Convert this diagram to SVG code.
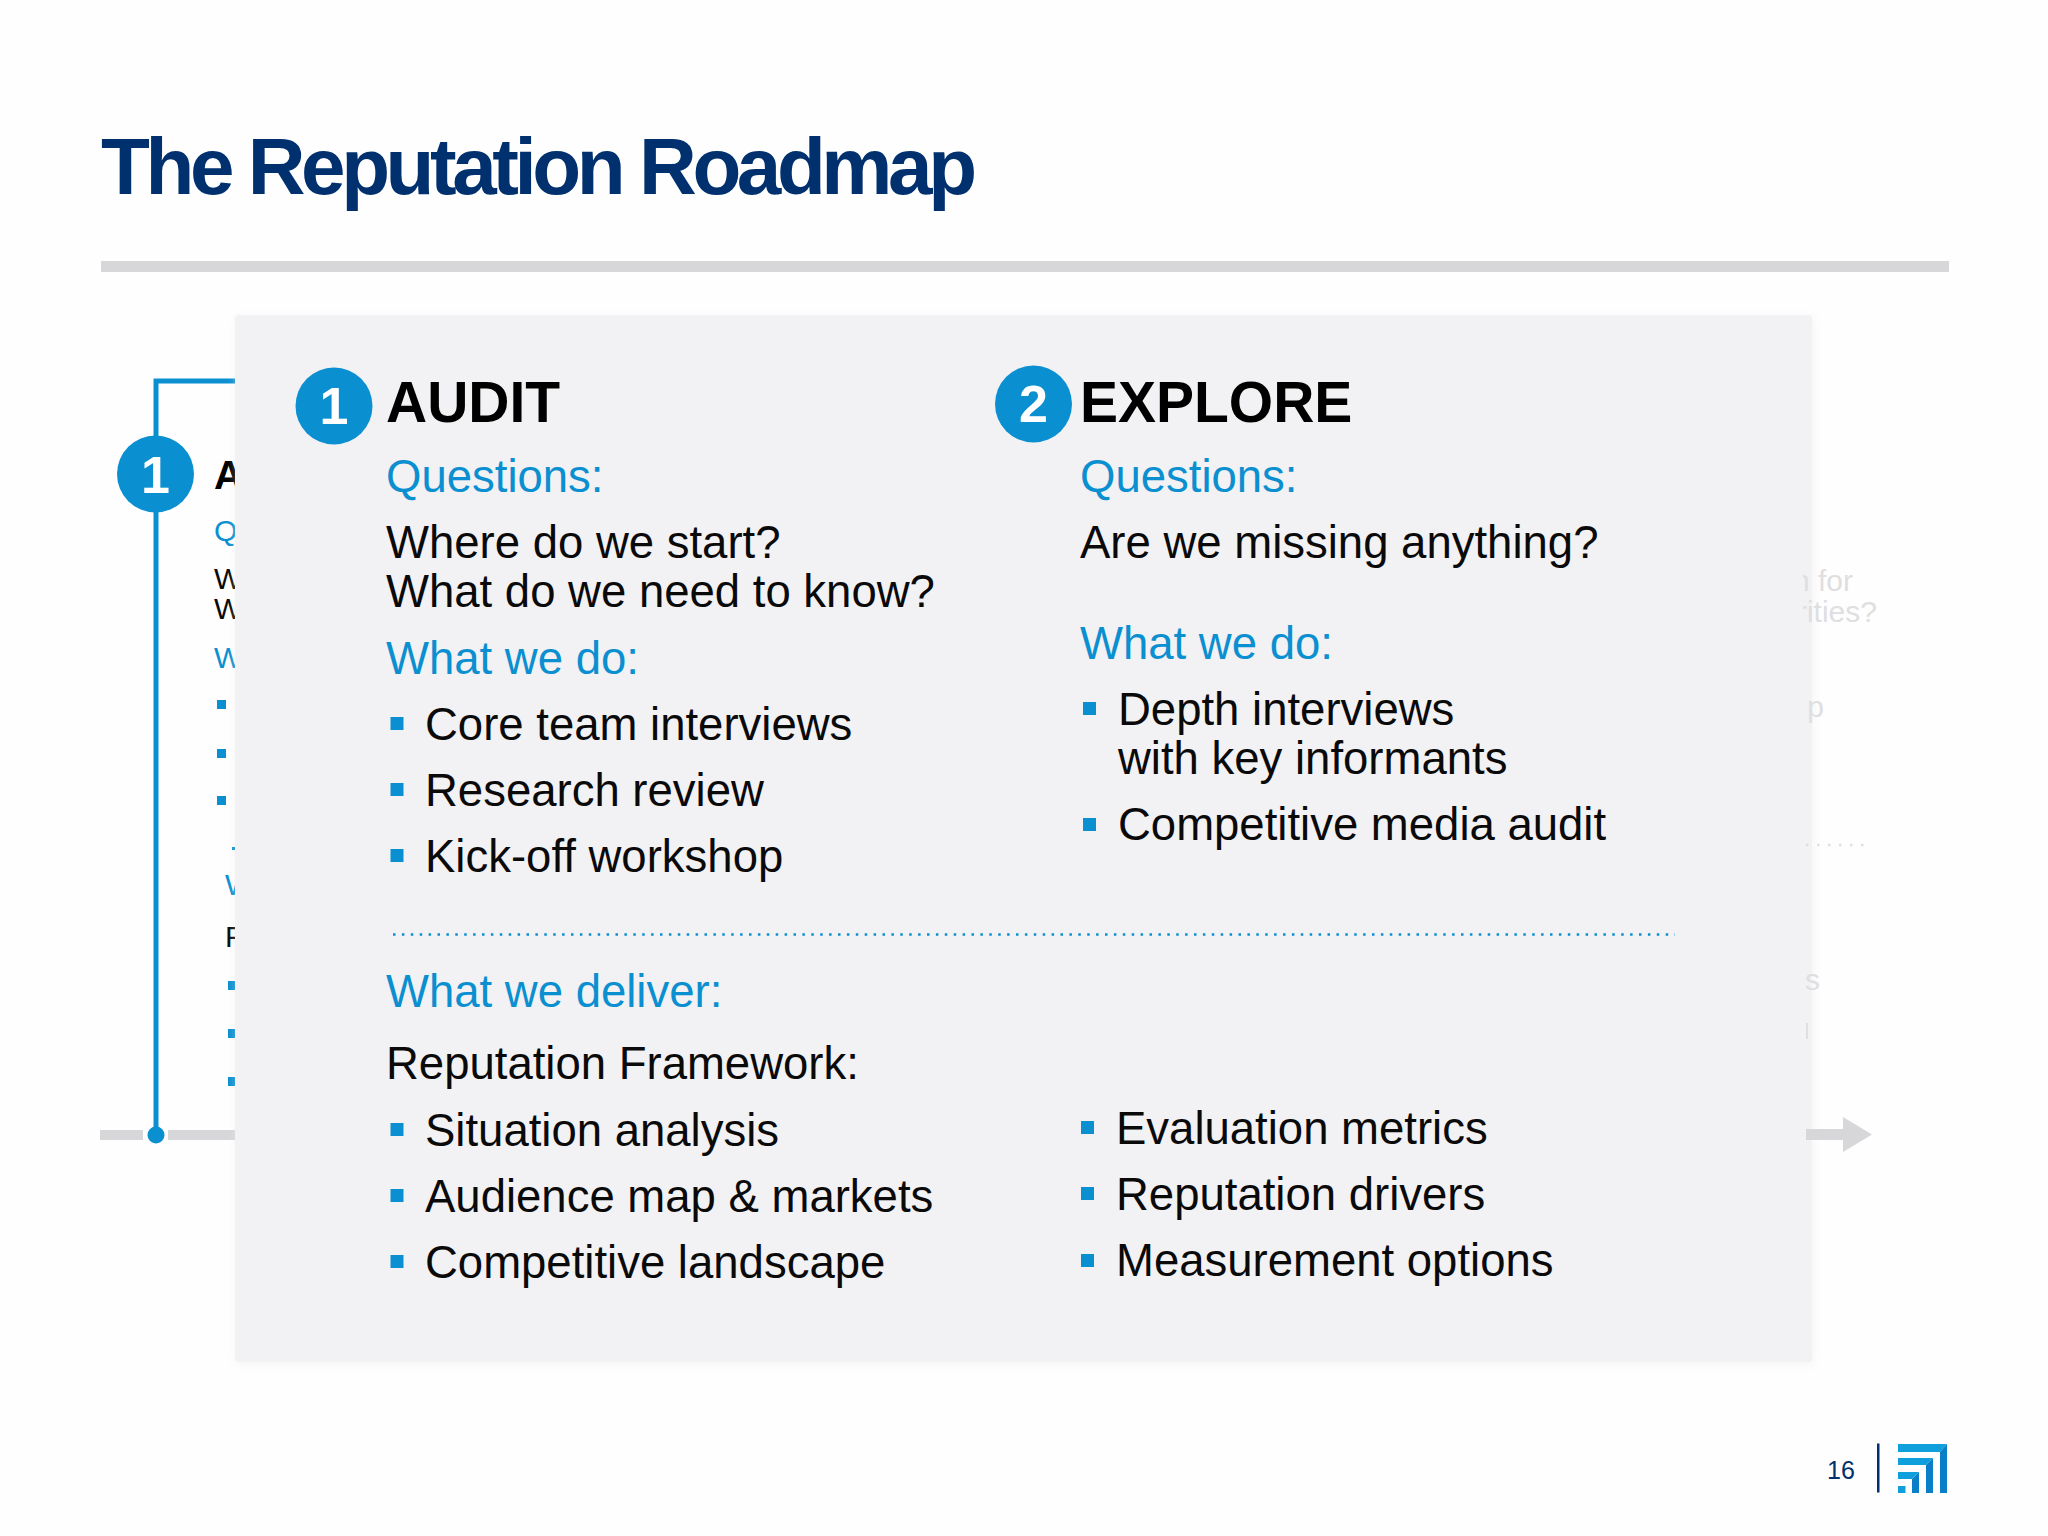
<svg xmlns="http://www.w3.org/2000/svg" width="2048" height="1536" viewBox="0 0 2048 1536">
<style>
text{font-family:"Liberation Sans",Arial,sans-serif}
.t{font-size:45.5px;fill:#0a0a0a}
.b{font-size:45.5px;fill:#0a8fd0}
.h{font-size:57px;font-weight:700;fill:#000}
.n{font-size:52px;font-weight:700;fill:#fff;text-anchor:middle}
.st{font-size:30px;fill:#0a0a0a}
.sb{font-size:30px;fill:#0a8fd0}
.f{font-size:30px;fill:#dfdee1}
.c{fill:#0a8fd0}
.sq{fill:#0a8fd0}
.tl{fill:#d7d6d9}
.lh{fill:#0f9fdd}
.lv{fill:#0a7fc8}
</style>
<defs>
<filter id="soft" x="-5%" y="-5%" width="110%" height="110%"><feGaussianBlur stdDeviation="5"/></filter>
<clipPath id="rightEdge"><rect x="1803" y="300" width="245" height="1000"/></clipPath>
</defs>
<rect width="2048" height="1536" fill="#fefefe"/>
<g id="title">
<text x="101" y="194" font-size="80" font-weight="700" fill="#00306e" textLength="876" lengthAdjust="spacing">The Reputation Roadmap</text>
<rect class="tl" x="101" y="261" width="1848" height="11"/>
</g>
<g id="connectors">
<path d="M156 1128V381H235" fill="none" stroke="#0a8fd0" stroke-width="5"/>
<rect class="tl" x="100" y="1130" width="43" height="10"/>
<rect class="tl" x="168" y="1130" width="70" height="10"/>
<circle cx="156" cy="1135" r="8.5" class="c"/>
</g>
<g id="background-step">
<circle cx="155.5" cy="474" r="38.5" class="c"/>
<text x="155.5" y="492.5" class="n">1</text>
<text x="214" y="489" font-size="40" font-weight="700" fill="#000">A</text>
<text x="214" y="540.5" class="sb">Q</text>
<text x="214" y="589" class="st">W</text>
<text x="214" y="619" class="st">W</text>
<text x="214" y="667.5" class="sb">W</text>
<rect class="sq" x="217" y="700" width="9" height="9"/>
<rect class="sq" x="217" y="749" width="9" height="9"/>
<rect class="sq" x="217" y="796" width="9" height="9"/>
<rect class="sq" x="232" y="847" width="3" height="3"/>
<text x="225" y="895" class="sb">W</text>
<text x="225" y="947" class="st">F</text>
<rect class="sq" x="228" y="981" width="9" height="9"/>
<rect class="sq" x="228" y="1029" width="9" height="9"/>
<rect class="sq" x="228" y="1077" width="9" height="9"/>
</g>
<g id="panel">
<rect x="236" y="317" width="1577" height="1047" fill="#e9e8ea" opacity=".45" filter="url(#soft)"/>
<rect x="235" y="315" width="1577" height="1047" rx="4" fill="#f2f1f3"/>
</g>
<g id="faded-right" clip-path="url(#rightEdge)">
<text x="1853" y="590.5" text-anchor="end" class="f">n for</text>
<text x="1877" y="621.5" text-anchor="end" class="f">rities?</text>
<text x="1824" y="717" text-anchor="end" class="f">p</text>
<path d="M1806 845H1871" fill="none" stroke="#dfdee1" stroke-width="2.5" stroke-dasharray="2.5 8.5"/>
<text x="1820" y="990" text-anchor="end" class="f">s</text>
<rect x="1806" y="1023" width="2" height="16" fill="#dfdee1"/>
<rect class="tl" x="1806" y="1129" width="40" height="11"/>
<polygon class="tl" points="1843,1117 1872,1134.5 1843,1152"/>
</g>
<g id="audit">
<circle cx="334" cy="406" r="38.5" class="c"/>
<text x="334" y="424" class="n">1</text>
<text x="386" y="421.5" class="h">AUDIT</text>
<text x="386" y="491.5" class="b">Questions:</text>
<text x="386" y="558" class="t">Where do we start?</text>
<text x="386" y="607" class="t">What do we need to know?</text>
<text x="386" y="674" class="b">What we do:</text>
<rect class="sq" x="390.5" y="717" width="13" height="13"/>
<text x="425" y="739.5" class="t">Core team interviews</text>
<rect class="sq" x="390.5" y="783" width="13" height="13"/>
<text x="425" y="806" class="t">Research review</text>
<rect class="sq" x="390.5" y="849" width="13" height="13"/>
<text x="425" y="871.5" class="t">Kick-off workshop</text>
</g>
<g id="explore">
<circle cx="1033.5" cy="404" r="38.5" class="c"/>
<text x="1033.5" y="421.5" class="n">2</text>
<text x="1080" y="421.5" class="h">EXPLORE</text>
<text x="1080" y="491.5" class="b">Questions:</text>
<text x="1080" y="558" class="t">Are we missing anything?</text>
<text x="1080" y="658.5" class="b">What we do:</text>
<rect class="sq" x="1083" y="702" width="13" height="13"/>
<text x="1118" y="725" class="t">Depth interviews</text>
<text x="1118" y="774" class="t">with key informants</text>
<rect class="sq" x="1083" y="818" width="13" height="13"/>
<text x="1118" y="840" class="t">Competitive media audit</text>
</g>
<path id="divider" d="M393 934.5H1675" fill="none" stroke="#0a8fd0" stroke-width="2.5" stroke-dasharray="2.5 6.4"/>
<g id="deliver">
<text x="386" y="1007" class="b">What we deliver:</text>
<text x="386" y="1079" class="t">Reputation Framework:</text>
<rect class="sq" x="390.5" y="1123" width="13" height="13"/>
<text x="425" y="1145.5" class="t">Situation analysis</text>
<rect class="sq" x="390.5" y="1189" width="13" height="13"/>
<text x="425" y="1211.5" class="t">Audience map &amp; markets</text>
<rect class="sq" x="390.5" y="1255" width="13" height="13"/>
<text x="425" y="1277.5" class="t">Competitive landscape</text>
<rect class="sq" x="1081" y="1121" width="13" height="13"/>
<text x="1116" y="1144" class="t">Evaluation metrics</text>
<rect class="sq" x="1081" y="1187" width="13" height="13"/>
<text x="1116" y="1209.5" class="t">Reputation drivers</text>
<rect class="sq" x="1081" y="1254" width="13" height="13"/>
<text x="1116" y="1276" class="t">Measurement options</text>
</g>
<g id="footer">
<text x="1827" y="1479" font-size="25" fill="#00306e">16</text>
<rect x="1877" y="1443.5" width="2.5" height="49" fill="#00306e"/>
<polygon class="lh" points="1898,1444 1947,1444 1940,1452 1898,1452"/>
<polygon class="lv" points="1947,1444 1947,1493 1940,1493 1940,1452"/>
<polygon class="lh" points="1898,1458 1933,1458 1926,1465 1898,1465"/>
<polygon class="lv" points="1933,1458 1933,1493 1926,1493 1926,1465"/>
<polygon class="lh" points="1898,1472 1919,1472 1912,1479 1898,1479"/>
<polygon class="lv" points="1919,1472 1919,1493 1912,1493 1912,1479"/>
<rect class="lh" x="1898" y="1486" width="7.5" height="7"/>
</g>
</svg>
